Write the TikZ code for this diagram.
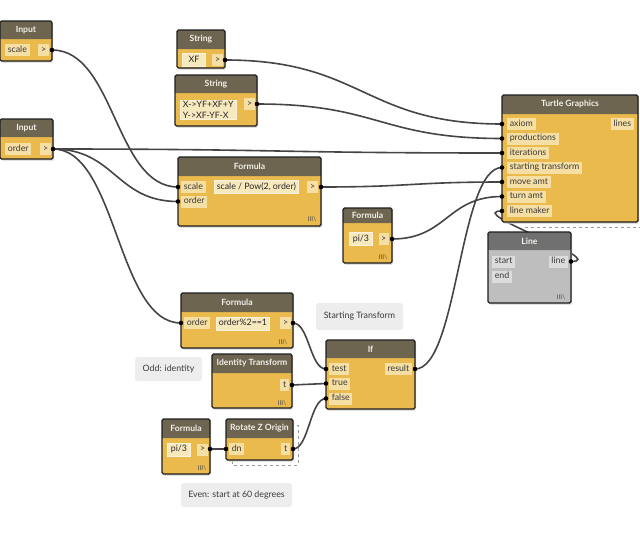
\documentclass[tikz,border=0pt]{standalone}
\usepackage{fontspec}
\setmainfont{Lato}
\usetikzlibrary{calc}
\pgfdeclarelayer{background}
\pgfsetlayers{background,main}
\definecolor{hdr}{HTML}{6E6551}
\definecolor{bdy}{HTML}{EBBA4C}
\definecolor{prt}{HTML}{F6DFA4}
\definecolor{fldc}{HTML}{F8E8BE}
\definecolor{fldb}{HTML}{FCF4DE}
\definecolor{wirec}{HTML}{454545}
\definecolor{ghdr}{HTML}{707070}
\definecolor{gbdy}{HTML}{BEBEBE}
\definecolor{gprt}{HTML}{DCDCDC}
\definecolor{notec}{HTML}{EDEDED}
\definecolor{txt}{HTML}{3A3A3A}
\definecolor{ttlc}{HTML}{F3F0E8}
\newcommand\dynbox[9]{%
  \fill[black!18,rounded corners=1.5pt] ({#2+1.2},{#3+1.5}) rectangle ({#4+1.2},{#5+1.5});
  \fill[#9,rounded corners=1.5pt] (#2,#3) rectangle (#4,#5);
  \fill[#8,rounded corners=1.5pt] (#2,#3) rectangle (#4,#6);
  \fill[#8] (#2,{#6-2}) rectangle (#4,#6);
  \draw[boxline] (#2,#3) rectangle (#4,#5);
  \node[ttl] (#1) at ({(#2+#4)/2},{(#3+#6)/2}) {#7};
}
\begin{document}
\begin{tikzpicture}[x=1pt,y=-1pt,
  font=\fontsize{8.8}{10.4}\selectfont,
  boxline/.style={draw=black!88, line width=1.2pt, rounded corners=1.5pt},
  ttl/.style={font=\fontsize{8.6}{10}\selectfont\bfseries, text=ttlc, inner sep=0pt},
  port/.style={fill=prt, text=txt, inner xsep=2.6pt, inner ysep=0pt, minimum height=12pt, text height=6.6pt, text depth=2pt},
  gport/.style={port, fill=gprt},
  fldbase/.style={fill=fldc, draw=fldb, line width=0.8pt, text=black!85, inner xsep=2.4pt, inner ysep=1pt},
  fld/.style={fldbase, minimum height=13pt, text height=6.6pt, text depth=2pt},
  note/.style={fill=notec, rounded corners=3pt, text=txt, inner sep=0pt},
  lace/.style={font=\fontsize{6.5}{7}\selectfont, text=black!70, inner sep=0pt},
  wire/.style={draw=wirec, line width=1.6pt},
  dot/.style={fill=black},
  dashbox/.style={draw=black!40, dashed, line width=0.9pt}
]
\begin{pgfonlayer}{background}
\fill[white] (0,0) rectangle (640,555);
\end{pgfonlayer}
\useasboundingbox (0,0) rectangle (640,555);

% ---------------- Input scale
\dynbox{inS}{0}{21}{52}{61}{39}{Input}{hdr}{bdy}
\node[port, anchor=west] (inS-p) at (5,50) {scale};
\node[port, anchor=east] (inS-g) at (49,50) {>};
\coordinate (iS-o) at (52,50);

% ---------------- Input order
\dynbox{inO}{0}{119}{53}{159}{137}{Input}{hdr}{bdy}
\node[port, anchor=west] (inO-p) at (5,149) {order};
\node[port, anchor=east] (inO-g) at (51,149) {>};
\coordinate (iO-o) at (53,149);

% ---------------- String XF
\dynbox{sXF}{177}{30}{225}{68}{49}{String}{hdr}{bdy}
\node[fld, anchor=west, minimum width=23pt] (sXF-f) at (182,60) {XF};
\node[port, anchor=east] (sXF-g) at (223,60) {>};
\coordinate (sXF-o) at (225,60);

% ---------------- String productions
\dynbox{sP}{175}{75}{257}{126}{93}{String}{hdr}{bdy}
\node[fldbase, anchor=west, align=left, inner ysep=1.5pt] (sP-f) at (180,110) {X->YF+XF+Y\\Y->XF-YF-X};
\node[port, anchor=east] (sP-g) at (255,104) {>};
\coordinate (sP-o) at (257,104);

% ---------------- Turtle Graphics
\dynbox{tg}{502}{95}{638}{222}{114}{Turtle Graphics}{hdr}{bdy}
\node[port, anchor=west] (tg-axiom) at (507,124) {axiom};
\node[port, anchor=west] (tg-prod) at (507,138.5) {productions};
\node[port, anchor=west] (tg-iter) at (507,153) {iterations};
\node[port, anchor=west] (tg-start) at (507,167.5) {starting transform};
\node[port, anchor=west] (tg-move) at (507,182) {move amt};
\node[port, anchor=west] (tg-turn) at (507,196.5) {turn amt};
\node[port, anchor=west] (tg-line) at (507,211) {line maker};
\node[port, anchor=east] (tg-lines) at (634,124) {lines};
\coordinate (tg-axiom-i) at (502,124);
\coordinate (tg-prod-i) at (502,138.5);
\coordinate (tg-iter-i) at (502,153);
\coordinate (tg-start-i) at (502,167.5);
\coordinate (tg-move-i) at (502,182);
\coordinate (tg-turn-i) at (502,196.5);
\coordinate (tg-line-i) at (502,211);
\coordinate (tgd-a) at (525,227);
\coordinate (tgd-b) at (640,227);
\draw[dashbox] (tgd-a) -- (tgd-b);

% ---------------- Formula scale / Pow
\dynbox{fS}{178}{157}{321}{226}{176}{Formula}{hdr}{bdy}
\node[port, anchor=west] (fS-scale) at (181,187) {scale};
\node[port, anchor=west] (fS-order) at (181,201.5) {order};
\node[fld, anchor=west] (fS-f) at (214,187) {scale / Pow(2, order)};
\node[port, anchor=east] (fS-g) at (318,187) {>};
\node[lace] (fS-l) at (312,219) {III\textbackslash};
\coordinate (fS-scale-i) at (178,187);
\coordinate (fS-order-i) at (178,201.5);
\coordinate (fS-o) at (321,187);

% ---------------- Formula pi/3 (top)
\dynbox{fP}{343}{208}{392}{263}{223}{Formula}{hdr}{bdy}
\node[fld, anchor=west, minimum width=23pt] (fP-f) at (349,239) {pi/3};
\node[port, anchor=east] (fP-g) at (389,239) {>};
\node[lace] (fP-l) at (383,257) {III\textbackslash};
\coordinate (fP-o) at (392,239);

% ---------------- Line
\dynbox{ln}{488}{232}{571}{303}{250}{Line}{ghdr}{gbdy}
\node[gport, anchor=west] (ln-start) at (492,261.5) {start};
\node[gport, anchor=west] (ln-end) at (492,276.5) {end};
\node[gport, anchor=east] (ln-line) at (568,261.5) {line};
\node[lace] (ln-l) at (561,297) {III\textbackslash};
\coordinate (ln-o) at (571,261.5);

% ---------------- Formula order%2==1
\dynbox{fO}{181}{293}{293}{348}{312}{Formula}{hdr}{bdy}
\node[port, anchor=west] (fO-order) at (184,323) {order};
\node[fld, anchor=west] (fO-f) at (216,323.5) {order\%2==1};
\node[port, anchor=east] (fO-g) at (291,323) {>};
\node[lace] (fO-l) at (283,342) {III\textbackslash};
\coordinate (fO-i) at (181,323);
\coordinate (fO-o) at (293,323);

% ---------------- Notes
\node[note, minimum width=87pt, minimum height=27pt] (nST) at (359.5,316.5) {Starting Transform};
\node[note, minimum width=67pt, minimum height=24pt] (nOdd) at (168.5,369) {Odd: identity};
\node[note, minimum width=111pt, minimum height=24pt] (nEven) at (236.5,495) {Even: start at 60 degrees};

% ---------------- If
\dynbox{if}{326}{340}{415}{409}{358}{If}{hdr}{bdy}
\node[port, anchor=west] (if-test) at (329,369) {test};
\node[port, anchor=west] (if-true) at (329,383.5) {true};
\node[port, anchor=west] (if-false) at (329,398.5) {false};
\node[port, anchor=east] (if-result) at (412,369) {result};
\coordinate (if-test-i) at (326,369);
\coordinate (if-true-i) at (326,383.5);
\coordinate (if-false-i) at (326,398.5);
\coordinate (if-o) at (415,369);

% ---------------- Identity Transform
\dynbox{id}{212}{354}{292}{408}{373}{Identity Transform}{hdr}{bdy}
\node[port, anchor=east] (id-t) at (289,385) {t};
\node[lace] (id-l) at (282,403) {III\textbackslash};
\coordinate (id-o) at (292,385);

% ---------------- Formula pi/3 (bottom)
\dynbox{fP2}{162}{419}{210}{474}{438}{Formula}{hdr}{bdy}
\node[fld, anchor=west, minimum width=23pt] (fP2-f) at (167,449.5) {pi/3};
\node[port, anchor=east] (fP2-g) at (208,449.5) {>};
\node[lace] (fP2-l) at (202,468) {III\textbackslash};
\coordinate (fP2-o) at (210,449);

% ---------------- Rotate Z Origin
\coordinate (rzd-a) at (232,425);
\coordinate (rzd-b) at (298,465);
\draw[dashbox] (rzd-a) rectangle (rzd-b);
\dynbox{rz}{226}{419}{293}{460}{438}{Rotate Z Origin}{hdr}{bdy}
\node[port, anchor=west] (rz-dn) at (229,449) {dn};
\node[port, anchor=east] (rz-t) at (290,449) {t};
\coordinate (rz-i) at (226,449);
\coordinate (rz-o) at (293,449);

% ---------------- Connectors
\begin{pgfonlayer}{background}
\draw[wire] (iS-o) .. controls +(63,0) and +(-63,0) .. (fS-scale-i);
\draw[wire] (iO-o) .. controls +(62,0) and +(-62,0) .. (fS-order-i);
\draw[wire] (iO-o) .. controls +(224,0) and +(-224,0) .. (tg-iter-i);
\draw[wire] (iO-o) .. controls +(64,0) and +(-64,0) .. (fO-i);
\draw[wire] (sXF-o) .. controls +(138,0) and +(-138,0) .. (tg-axiom-i);
\draw[wire] (sP-o) .. controls +(122,0) and +(-122,0) .. (tg-prod-i);
\draw[wire] (fS-o) .. controls +(90,0) and +(-90,0) .. (tg-move-i);
\draw[wire] (fP-o) .. controls +(55,0) and +(-55,0) .. (tg-turn-i);
\draw[wire] (if-o) .. controls +(43,0) and +(-43,0) .. (tg-start-i);
\draw[wire] (fO-o) .. controls +(16,0) and +(-16,0) .. (if-test-i);
\draw[wire] (id-o) .. controls +(17,0) and +(-17,0) .. (if-true-i);
\draw[wire] (rz-o) .. controls +(16,0) and +(-16,0) .. (if-false-i);
\draw[wire] (fP2-o) -- (rz-i);
\draw[wire] (ln-o) .. controls +(40,0) and +(-40,0) .. (tg-line-i);
\end{pgfonlayer}

% ---------------- Port dots
\foreach \c in {iS-o,iO-o,sXF-o,sP-o,tg-axiom-i,tg-prod-i,tg-iter-i,tg-start-i,tg-move-i,tg-turn-i,tg-line-i,fS-scale-i,fS-order-i,fS-o,fP-o,ln-o,fO-i,fO-o,if-test-i,if-true-i,if-false-i,if-o,id-o,fP2-o,rz-i,rz-o}
  \fill[dot] (\c) circle (2.3);
\end{tikzpicture}
\end{document}
